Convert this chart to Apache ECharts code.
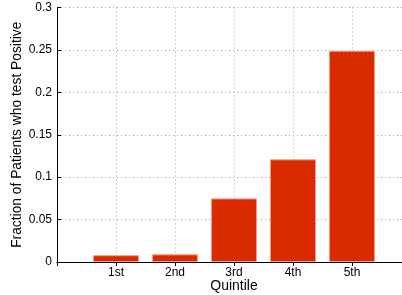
<!DOCTYPE html>
<html>
<head>
<meta charset="utf-8">
<script src="https://cdn.jsdelivr.net/npm/echarts@6/dist/echarts.min.js"></script>
<style>
  html, body { margin: 0; padding: 0; background: #fff; }
  #plot { width: 402px; height: 295px; }
</style>
</head>
<body>
<div id="plot"></div>
<script>
const categories = ["1st", "2nd", "3rd", "4th", "5th"];
const fractions = [0.008, 0.009, 0.075, 0.121, 0.249];
const font = "Liberation Sans";

const chart = echarts.init(document.getElementById("plot"));
const dotted = { color: "#a8a8a8", width: 1, type: [1, 3] };

chart.setOption({
  animation: false,
  grid: { left: 57, top: 7.5, right: -9, bottom: 33, outerBoundsMode: "none" },
  xAxis: [
    {
      type: "value",
      min: 0,
      max: 6,
      interval: 1,
      name: "Quintile",
      nameLocation: "middle",
      nameGap: 17,
      nameMoveOverlap: false,
      nameTextStyle: { fontFamily: font, fontSize: 14, color: "#000" },
      axisLine: { onZero: false, lineStyle: { color: "#000", width: 1 } },
      axisTick: { inside: true, length: 4, lineStyle: { color: "#000" } },
      axisLabel: {
        fontFamily: font,
        fontSize: 12,
        color: "#000",
        margin: 5,
        formatter: function (v) {
          return categories[v - 1] || "";
        },
      },
      splitLine: { show: true, lineStyle: dotted },
    },
    {
      type: "value",
      position: "top",
      min: 0,
      max: 6,
      interval: 1,
      axisLine: { lineStyle: { color: "#000", width: 1 } },
      axisTick: { inside: true, length: 4, lineStyle: { color: "#000" } },
      axisLabel: { show: false },
      splitLine: { show: false },
    },
  ],
  yAxis: {
    type: "value",
    min: 0,
    max: 0.3,
    interval: 0.05,
    name: "Fraction of Patients who test Positive",
    nameLocation: "middle",
    nameGap: 33,
    nameMoveOverlap: false,
    nameTextStyle: { fontFamily: font, fontSize: 13.8, color: "#000" },
    axisLine: { show: true, lineStyle: { color: "#000", width: 1 } },
    axisTick: { show: true, inside: true, length: 4, lineStyle: { color: "#000" } },
    axisLabel: { fontFamily: font, fontSize: 12, color: "#000", margin: 5 },
    splitLine: { show: true, lineStyle: dotted },
  },
  series: [
    {
      type: "bar",
      barWidth: 46,
      data: categories.map(function (c, i) {
        return [i + 1, fractions[i]];
      }),
      itemStyle: { color: "#d92a00", borderColor: "#f39a88", borderWidth: 1 },
    },
  ],
});
</script>
</body>
</html>
